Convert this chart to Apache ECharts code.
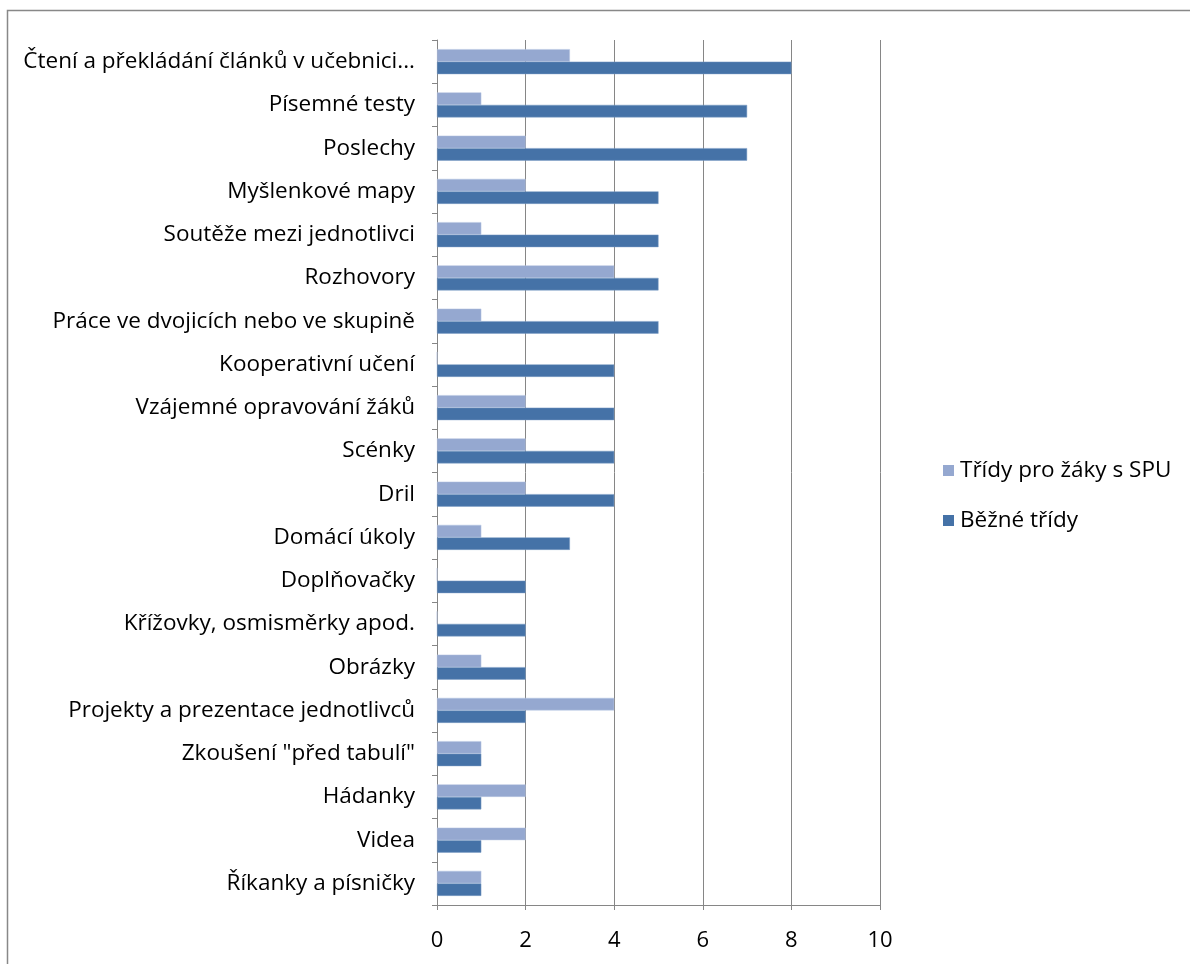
<!DOCTYPE html>
<html><head><meta charset="utf-8">
<script src="https://cdn.jsdelivr.net/npm/echarts@6/dist/echarts.min.js"></script>
<style>html,body{margin:0;padding:0;background:#fff}#c{width:1190px;height:964px}</style>
</head><body><div id="c"></div>
<script>
const categories = [
  'Čtení a překládání článků v učebnici...',
  'Písemné testy',
  'Poslechy',
  'Myšlenkové mapy',
  'Soutěže mezi jednotlivci',
  'Rozhovory',
  'Práce ve dvojicích nebo ve skupině',
  'Kooperativní učení',
  'Vzájemné opravování žáků',
  'Scénky',
  'Dril',
  'Domácí úkoly',
  'Doplňovačky',
  'Křížovky, osmisměrky apod.',
  'Obrázky',
  'Projekty a prezentace jednotlivců',
  'Zkoušení "před tabulí"',
  'Hádanky',
  'Videa',
  'Říkanky a písničky'
];
const spuValues =    [3, 1, 2, 2, 1, 4, 1, 0, 2, 2, 2, 1, 0, 0, 1, 4, 1, 2, 2, 1];
const bezneValues =  [8, 7, 7, 5, 5, 5, 5, 4, 4, 4, 4, 3, 2, 2, 2, 2, 1, 1, 1, 1];
const xTicks = [0, 2, 4, 6, 8, 10];
const seriesNames = ['Třídy pro žáky s SPU', 'Běžné třídy'];

const FONT = 'Open Sans';
const chart = echarts.init(document.getElementById('c'), null, {renderer: 'canvas'});
chart.setOption({
  animation: false,
  backgroundColor: '#fff',
  graphic: [{
    type: 'rect', shape: {x: 7.5, y: 10.5, width: 1300, height: 1000},
    style: {fill: 'none', stroke: '#888', lineWidth: 1.5}, silent: true
  }],
  grid: {left: 437, top: 40, width: 443, height: 865, containLabel: false},
  legend: {
    orient: 'vertical', left: 938, top: 454, itemWidth: 11, itemHeight: 11, itemGap: 27,
    icon: 'rect',
    itemStyle: {borderWidth: 0},
    textStyle: {fontFamily: FONT, fontSize: 22.5, color: '#000', padding: [0, 0, 0, 1]},
    data: seriesNames
  },
  xAxis: {
    type: 'value', min: xTicks[0], max: xTicks[xTicks.length - 1], interval: 2,
    axisLine: {show: true, lineStyle: {color: '#868686', width: 1}},
    axisTick: {show: true, length: 5, lineStyle: {color: '#868686'}},
    axisLabel: {fontFamily: FONT, fontSize: 22, color: '#000', margin: 25},
    splitLine: {show: true, lineStyle: {color: '#868686', width: 1}}
  },
  yAxis: {
    type: 'category', data: categories, inverse: true,
    axisLine: {show: true, lineStyle: {color: '#868686', width: 1}},
    axisTick: {show: true, length: 5, inside: false, lineStyle: {color: '#868686'}},
    axisLabel: {fontFamily: FONT, fontSize: 22.5, color: '#000', margin: 22, interval: 0}
  },
  series: [
    {name: seriesNames[0], type: 'bar', data: spuValues, barWidth: 12.5,
     barGap: '0%', itemStyle: {color: '#95A8D0', borderColor: '#b9c6e2', borderWidth: 0.5}},
    {name: seriesNames[1], type: 'bar', data: bezneValues, barWidth: 12.5,
     barGap: '0%', itemStyle: {color: '#4572A7', borderColor: '#7d9cc4', borderWidth: 0.5}}
  ]
});
</script></body></html>
